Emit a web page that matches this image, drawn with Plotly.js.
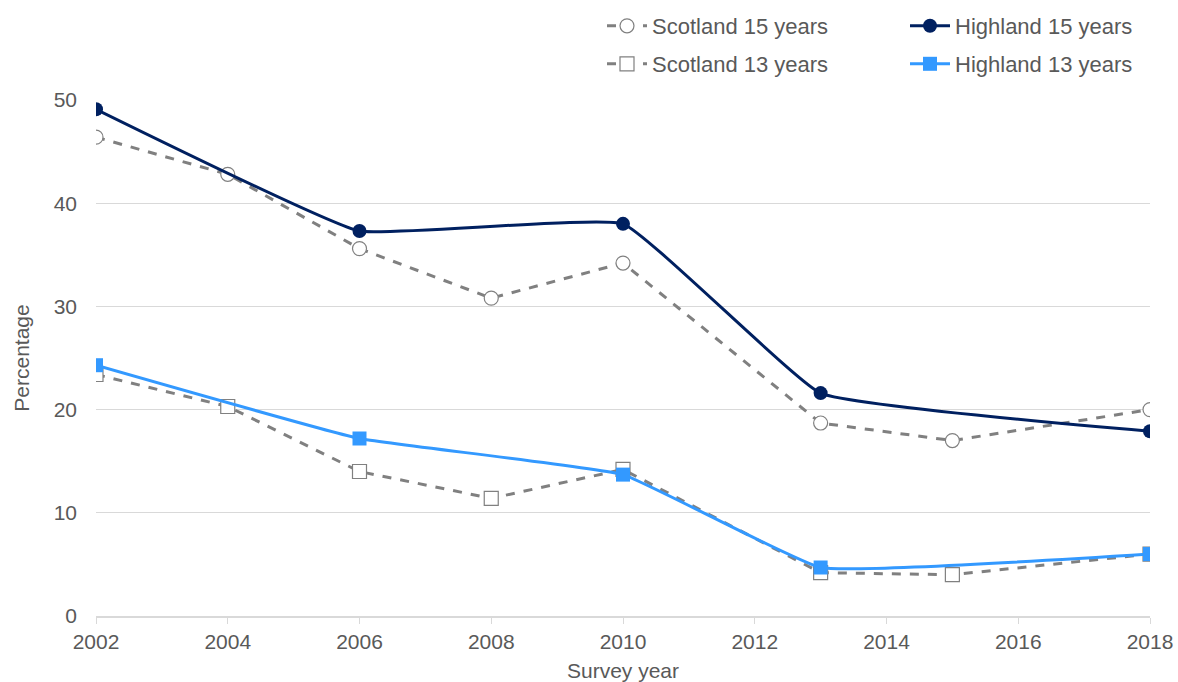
<!DOCTYPE html>
<html><head><meta charset="utf-8">
<script src="https://cdn.plot.ly/plotly-3.0.1.min.js"></script>
<style>html,body{margin:0;padding:0;background:#fff}#c{width:1178px;height:682px}</style>
</head><body><div id="c"></div>
<script>
const scotYears = [2002, 2004, 2006, 2008, 2010, 2013, 2015, 2018];
const scotland15 = [46.4, 42.8, 35.6, 30.8, 34.2, 18.7, 17.0, 20.0];
const scotland13 = [23.4, 20.3, 14.0, 11.4, 14.2, 4.2, 4.0, 6.0];
const highYears = [2002, 2006, 2010, 2013, 2018];
const highland15 = [49.1, 37.3, 38.0, 21.6, 17.9];
const highland13 = [24.3, 17.2, 13.7, 4.7, 6.0];
const xTicks = [2002, 2004, 2006, 2008, 2010, 2012, 2014, 2016, 2018];
const yTicks = [0, 10, 20, 30, 40, 50];

const grey = '#808080', navy = '#002060', blue = '#3399ff';
const traces = [
  {x: scotYears, y: scotland15, name: 'Scotland 15 years', mode: 'lines+markers', legend: 'legend',
   line: {color: grey, width: 3, dash: 'dash'},
   marker: {symbol: 'circle', size: 14, color: '#ffffff', line: {color: grey, width: 1.2}}},
  {x: highYears, y: highland15, name: 'Highland 15 years', mode: 'lines+markers', legend: 'legend2',
   line: {color: navy, width: 3, shape: 'spline', smoothing: 0.3},
   marker: {symbol: 'circle', size: 14, color: navy}},
  {x: scotYears, y: scotland13, name: 'Scotland 13 years', mode: 'lines+markers', legend: 'legend3',
   line: {color: grey, width: 3, dash: 'dash'},
   marker: {symbol: 'square', size: 14, color: '#ffffff', line: {color: grey, width: 1.2}}},
  {x: highYears, y: highland13, name: 'Highland 13 years', mode: 'lines+markers', legend: 'legend4',
   line: {color: blue, width: 3, shape: 'spline', smoothing: 0.3},
   marker: {symbol: 'square', size: 14, color: blue}}
];
const font = {family: 'Liberation Sans, Arial, sans-serif', size: 21, color: '#595959'};
const legBase = {orientation: 'v', xref: 'container', yref: 'container', xanchor: 'left', yanchor: 'middle',
  font: {family: font.family, size: 22, color: '#595959'},
  bgcolor: 'rgba(0,0,0,0)', itemwidth: 40};
const layout = {
  width: 1178, height: 682,
  margin: {l: 96, r: 28, t: 100, b: 66, autoexpand: false},
  paper_bgcolor: '#fff', plot_bgcolor: '#fff',
  font: font,
  showlegend: true,
  legend: Object.assign({}, legBase, {x: 602/1178, y: 1 - 26/682}),
  legend2: Object.assign({}, legBase, {x: 905/1178, y: 1 - 26/682}),
  legend3: Object.assign({}, legBase, {x: 602/1178, y: 1 - 64/682}),
  legend4: Object.assign({}, legBase, {x: 905/1178, y: 1 - 64/682}),
  xaxis: {range: [2002, 2018], tickvals: xTicks, ticktext: xTicks.map(String), automargin: false,
    showgrid: false, zeroline: false, showline: true, linecolor: '#d9d9d9', linewidth: 1.5,
    ticks: 'outside', ticklen: 6, tickcolor: '#d9d9d9', tickfont: font,
    title: {text: 'Survey year', font: font, standoff: 12}},
  yaxis: {range: [0, 50], tickvals: yTicks, showgrid: true, gridcolor: '#d9d9d9', gridwidth: 1, automargin: false,
    zeroline: false, showline: false, ticks: '', tickfont: font, ticklen: 0, ticklabelstandoff: 18,
    title: {text: 'Percentage', font: font, standoff: 18}},
};
Plotly.newPlot('c', traces, layout, {displayModeBar: false, staticPlot: true});
</script></body></html>
